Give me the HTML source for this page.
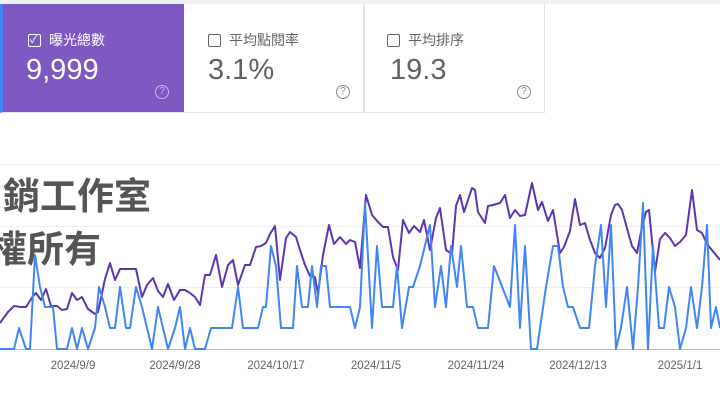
<!DOCTYPE html>
<html><head><meta charset="utf-8"><style>
body{margin:0;width:720px;height:405px;overflow:hidden;background:#fff;font-family:"Liberation Sans","Noto Sans CJK TC",sans-serif;position:relative}
.strip{position:absolute;left:0;top:0;width:720px;height:4px;background:#eef2f7}
.card{position:absolute;top:4px;height:109px;box-sizing:border-box;border-right:1px solid #e3e3e3;border-bottom:1px solid #e3e3e3}
.lab{position:absolute;left:28px;top:26px;font-size:14px;color:#5f6368;display:flex;align-items:center}
.cb{width:11px;height:11px;border:1.6px solid #5f6368;border-radius:2px;margin-right:8px;box-sizing:content-box;position:relative}
.num{position:absolute;left:26px;top:50px;font-size:29px;color:#5f6368}
.q{position:absolute;left:155px;top:81px;width:12px;height:12px;border:1.3px solid #888;border-radius:50%;font-size:10px;line-height:12px;text-align:center;color:#888}
.wm{position:absolute;font-size:37px;font-weight:bold;color:#555;white-space:nowrap}
.dt{position:absolute;top:360px;font-size:11.5px;color:#5f6368;transform:translateX(-50%)}
</style></head><body>
<div class="strip"></div>
<div class="card" style="left:0;width:184px;background:#7e57c2;border-left:3px solid #4285f4;border-right:none">
 <div class="lab" style="color:#fff;left:25px"><div class="cb" style="border-color:#fff"><span style="position:absolute;left:1px;top:-4px;font-size:11px;color:#fff">✓</span></div>曝光總數</div>
 <div class="num" style="color:#fff;left:23px">9,999</div>
 <div class="q" style="border-color:#c7b5e6;color:#c7b5e6;left:152px">?</div>
</div>
<div class="card" style="left:184px;width:180px">
 <div class="lab" style="left:24px"><div class="cb"></div>平均點閱率</div>
 <div class="num" style="left:24px">3.1%</div>
 <div class="q" style="left:152px">?</div>
</div>
<div class="card" style="left:364px;width:181px;border-left:1px solid #e3e3e3">
 <div class="lab" style="left:22px"><div class="cb"></div>平均排序</div>
 <div class="num" style="left:25px">19.3</div>
 <div class="q" style="left:152px">?</div>
</div>
<svg style="position:absolute;left:0;top:0" width="720" height="405">
<g stroke="#eeeeee" stroke-width="1"><line x1="0" y1="164.5" x2="720" y2="164.5"/><line x1="0" y1="226.5" x2="720" y2="226.5"/><line x1="0" y1="287.5" x2="720" y2="287.5"/></g>
<line x1="0" y1="349.5" x2="720" y2="349.5" stroke="#bdbdbd"/>
<polyline fill="none" stroke="#5e35b1" stroke-width="2" stroke-linejoin="round" points="0,323 8,312 14,306 21,307 26,307 33,296 36,293 41,300 46,289 51,306 57,306 62,310 67,309 72,293 77,300 82,297 88,309 95,314 98,312 105,279 110,263 115,280 120,269 136,269 142,297 147,285 153,278 158,291 163,297 168,284 174,300 180,290 185,290 190,293 195,297 200,305 205,275 210,275 216,255 222,287 228,265 233,260 238,285 245,265 250,265 256,247 261,246 266,243 270,234 275,226 280,280 286,238 290,232 296,237 300,250 305,265 310,276 315,277 318,294 323,255 329,225 334,244 340,237 346,244 350,240 355,242 360,268 366,195 372,215 378,222 383,227 388,227 393,257 398,270 403,220 409,233 414,226 420,232 424,220 430,250 436,218 440,208 446,250 452,254 456,206 460,195 464,212 472,188 475,190 478,212 485,223 488,206 493,205 500,203 505,195 510,218 515,210 520,216 525,215 532,183 538,210 542,202 548,221 553,210 560,253 564,247 570,231 575,199 580,225 585,223 590,240 595,253 600,258 605,248 611,215 615,205 618,204 622,210 628,232 632,246 637,253 642,227 646,212 649,210 655,272 660,239 665,233 670,238 675,246 680,242 686,235 692,190 697,230 702,233 707,244 720,260"/>
<polyline fill="none" stroke="#4285f4" stroke-width="2" stroke-linejoin="round" points="0,349 14,349 19,328 26,349 30,349 35,255 40,287 45,307 53,307 57,349 67,349 72,328 77,349 82,328 88,349 95,328 99,287 105,307 110,328 115,328 120,287 126,328 130,328 136,287 142,307 152,349 158,307 163,328 168,349 175,328 180,307 185,349 190,328 195,349 205,349 211,328 232,328 238,287 243,328 258,328 263,307 266,307 271,246 276,266 281,328 293,328 297,266 302,307 308,307 312,266 317,307 321,266 326,266 330,307 344,307 350,307 355,328 360,307 365,203 372,328 377,246 382,307 393,307 397,266 402,328 409,287 413,287 420,266 430,225 435,307 441,266 446,307 451,246 457,287 461,246 467,307 473,307 478,328 488,328 494,266 510,307 515,225 520,328 525,246 531,349 537,349 546,287 553,246 558,246 563,287 568,307 573,307 580,328 589,328 595,266 601,225 606,307 611,225 616,349 621,328 627,287 633,349 638,287 643,203 648,349 653,246 659,328 664,328 669,287 675,307 680,349 686,328 691,287 697,328 702,287 707,225 711,328 716,307 720,328"/>
</svg>
<div class="wm" style="left:3px;top:166px">銷工作室</div>
<div class="wm" style="left:-10px;top:219px">權所有</div>
<div class="dt" style="left:73px">2024/9/9</div>
<div class="dt" style="left:175px">2024/9/28</div>
<div class="dt" style="left:276px">2024/10/17</div>
<div class="dt" style="left:376px">2024/11/5</div>
<div class="dt" style="left:476px">2024/11/24</div>
<div class="dt" style="left:578px">2024/12/13</div>
<div class="dt" style="left:680px">2025/1/1</div>
</body></html>
